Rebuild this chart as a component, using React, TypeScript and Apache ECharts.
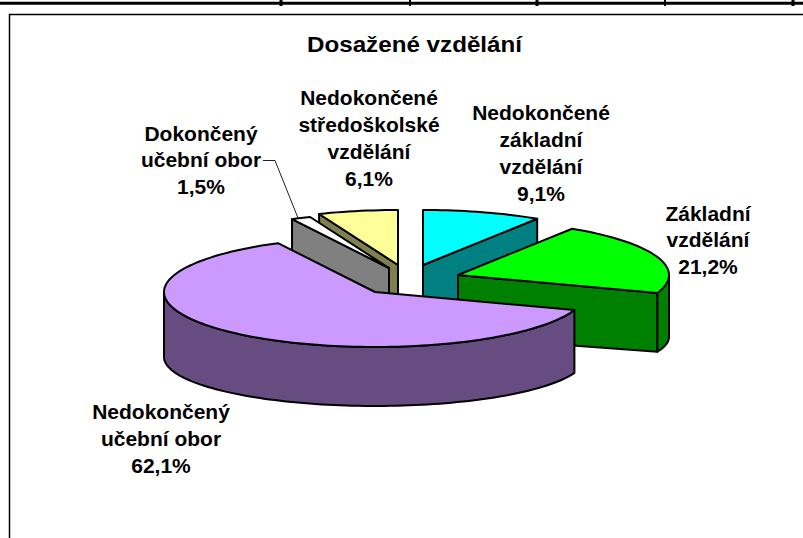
import React, { useEffect, useRef } from "react";
import * as echarts from "echarts";

const titleText = "Dosažené vzdělání";
const nameLines = [
  ["Nedokončené", "základní", "vzdělání"],
  ["Základní", "vzdělání"],
  ["Nedokončený", "učební obor"],
  ["Dokončený", "učební obor"],
  ["Nedokončené", "středoškolské", "vzdělání"],
];
const values = [9.1, 21.2, 62.1, 1.5, 6.1];
const topColors = ["#00FFFF", "#00FF00", "#CC99FF", "#FFFFFF", "#FFFF99"];
const sideColors = ["#008080", "#008000", "#664C80", "#808080", "#80804D"];

// Painter's order and projected pie geometry
const drawOrder = [0, 4, 3, 1, 2];
const tipX = [423, 458, 375, 389, 398];
const tipY = [265, 275, 292, 268, 265];
const depth = [62, 62, 65, 62, 62];
const bottomB = [50, 45, 49, 50, 50];
const RX = 211;
const RY = 55;

const labelX = [541, 708, 161, 201, 369];
const labelY = [153, 240, 438.5, 160, 138];
const labelH = 26.8;

const total = values.reduce((a, b) => a + b, 0);
const starts: number[] = [];
values.reduce((acc, v, i) => {
  starts[i] = acc;
  return acc + v;
}, 0);

const pct = (v: number) => v.toFixed(1).replace(".", ",") + "%";

function renderSlice(params: any, api: any) {
  const i = api.value(0);
  const v = api.value(1);
  const start = api.value(2);
  const a0 = (start / total) * 2 * Math.PI;
  const a1 = ((start + v) / total) * 2 * Math.PI;
  const tx = tipX[i];
  const ty = tipY[i];
  const d = depth[i];
  const bb = bottomB[i];
  const top = (t: number) => [tx + RX * Math.sin(t), ty - RY * Math.cos(t)];
  const bot = (t: number) => [tx + RX * Math.sin(t), ty + d - bb * Math.cos(t)];
  const arc = (from: number, to: number, f: (t: number) => number[]) => {
    const n = Math.max(2, Math.ceil(Math.abs(to - from) / 0.03));
    const pts: number[][] = [];
    for (let k = 0; k <= n; k++) pts.push(f(from + ((to - from) * k) / n));
    return pts;
  };
  const stroke = { stroke: "#000", lineWidth: 2, lineJoin: "round" };
  const poly = (points: number[][], fill: string) => ({
    type: "polygon",
    shape: { points },
    style: { fill, ...stroke },
  });
  const children: any[] = [];
  const side = sideColors[i];
  if (Math.sin(a1) > 1e-6) {
    const e = top(a1);
    children.push(poly([[tx, ty], e, [e[0], bot(a1)[1]], [tx, ty + d]], side));
  }
  if (Math.sin(a0) < -1e-6) {
    const e = top(a0);
    children.push(poly([[tx, ty], e, [e[0], bot(a0)[1]], [tx, ty + d]], side));
  }
  const f0 = Math.max(a0, Math.PI / 2);
  const f1 = Math.min(a1, 1.5 * Math.PI);
  if (f1 > f0) {
    children.push(poly([...arc(f0, f1, top), ...arc(f1, f0, bot)], side));
  }
  children.push(poly([[tx, ty], ...arc(a0, a1, top)], topColors[i]));
  return { type: "group", children };
}

export default function App() {
  const ref = useRef<HTMLDivElement>(null);
  useEffect(() => {
    const chart = echarts.init(ref.current!, undefined, { renderer: "svg" });
    const font = { fontFamily: "Liberation Sans", fontWeight: "bold" as const, fill: "#000" };
    const labels = values.map((v, i) => {
      const lines = [...nameLines[i], pct(v)];
      return {
        type: "text",
        x: labelX[i],
        y: labelY[i],
        scaleX: 1.05,
        silent: true,
        style: {
          ...font,
          text: lines.join("\n"),
          fontSize: 20,
          lineHeight: labelH,
          align: "center",
          verticalAlign: "middle",
        },
      };
    });
    const line = (x1: number, y1: number, x2: number, y2: number, w: number) => ({
      type: "line",
      silent: true,
      shape: { x1, y1, x2, y2 },
      style: { stroke: "#000", lineWidth: w },
    });
    chart.setOption({
      animation: false,
      backgroundColor: "#fff",
      series: [
        {
          type: "custom",
          coordinateSystem: "none",
          silent: true,
          clip: false,
          renderItem: renderSlice,
          data: drawOrder.map((i) => [i, values[i], starts[i]]),
        },
      ],
      graphic: [
        line(0, 3.3, 803, 3.3, 3),
        line(281, 0, 281, 6, 3),
        line(410, 0, 410, 6, 2),
        line(537, 0, 537, 6, 3),
        line(665, 0, 665, 6, 2),
        line(793, 0, 793, 6, 3),
        line(9, 14.5, 803, 14.5, 1.5),
        line(9.5, 14, 9.5, 538, 1.5),
        {
          type: "polyline",
          silent: true,
          shape: { points: [[263, 160.5], [275, 160.5], [298, 218]] },
          style: { stroke: "#222", lineWidth: 1, fill: "none" },
        },
        {
          type: "text",
          x: 414.5,
          y: 44,
          scaleX: 1.1,
          silent: true,
          style: {
            ...font,
            text: titleText,
            fontSize: 22,
            align: "center",
            verticalAlign: "middle",
          },
        },
        ...labels,
      ],
    });
    return () => chart.dispose();
  }, []);
  return <div ref={ref} style={{ position: "fixed", left: 0, top: 0, width: 803, height: 538 }} />;
}
